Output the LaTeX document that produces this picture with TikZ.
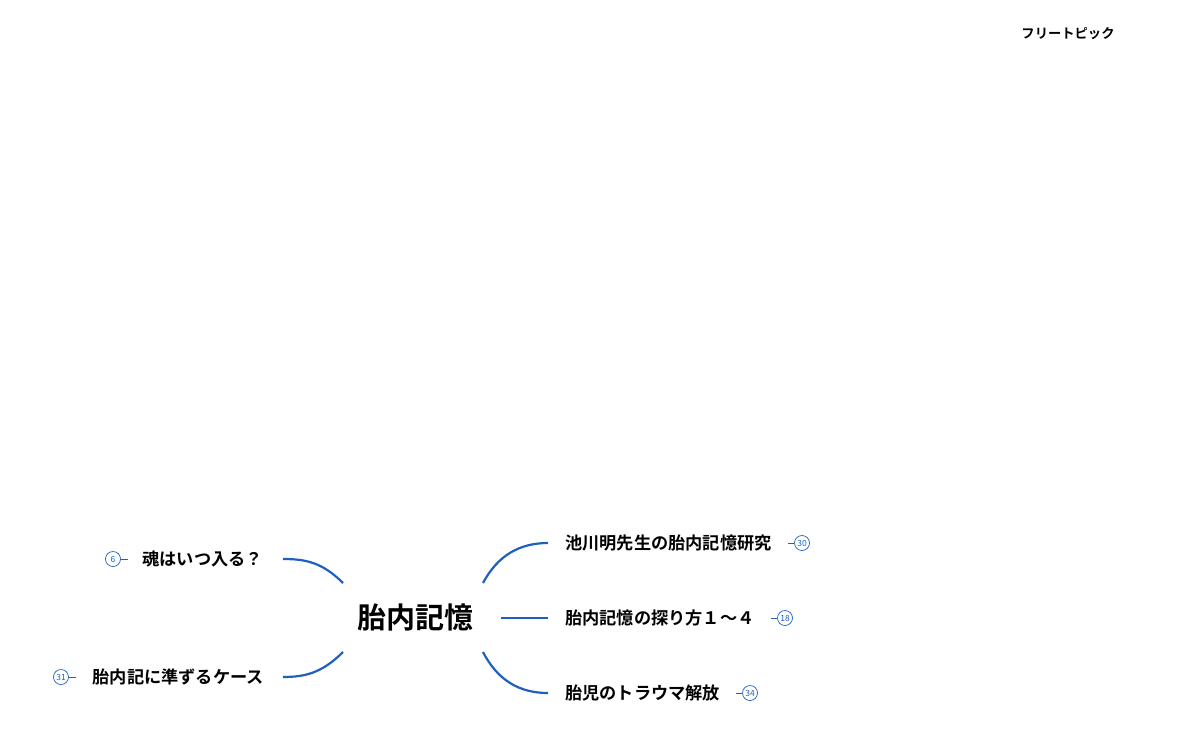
\documentclass[tikz,border=0pt]{standalone}
\usepackage{fontspec}
\setmainfont{Noto Sans CJK JP}[BoldFont=* Bold]
\definecolor{br}{HTML}{1F5FBF}
\tikzset{
 lbl/.style={inner sep=0pt,font=\bfseries\fontsize{17.2}{19}\selectfont},
 badge/.style={circle,draw=br,line width=0.7pt,minimum size=15pt,inner sep=0pt,text=br,font=\fontsize{8.5}{9}\selectfont},
 branch/.style={draw=br,line width=2.2pt},
 stub/.style={draw=br,line width=1pt}
}
\begin{document}
\begin{tikzpicture}[x=1pt,y=-1pt]
\useasboundingbox (0,0) rectangle (1181,731);
\node[inner sep=0pt,font=\bfseries\fontsize{13.3}{14}\selectfont] (ft) at (1068,34) {フリートピック};
\node[inner sep=2pt,font=\bfseries\fontsize{29}{30}\selectfont] (c) at (415,617) {胎内記憶};
% left
\node[lbl,anchor=east] (l1) at (263,559) {魂はいつ入る？};
\node[lbl,anchor=east] (l2) at (264,677) {胎内記に準ずるケース};
\node[badge] (b6) at (113,559) {6};
\node[badge] (b31) at (61,677) {31};
\coordinate (l1e) at (283,559);
\coordinate (l2e) at (283,677);
\coordinate (cul) at (343,583);
\coordinate (cll) at (343,652);
\draw[branch] (cul) .. controls (322,562) and (305,559) .. (l1e);
\draw[branch] (cll) .. controls (322,673) and (305,677) .. (l2e);
\draw[stub] (b6.east) -- ++(7,0);
\draw[stub] (b31.east) -- ++(7,0);
% right
\node[lbl,anchor=west] (r1) at (565,543) {池川明先生の胎内記憶研究};
\node[lbl,anchor=west] (r2) at (565,618) {胎内記憶の探り方１～４};
\node[lbl,anchor=west] (r3) at (565,693) {胎児のトラウマ解放};
\node[badge] (b30) at (802,543) {30};
\node[badge] (b18) at (785,618) {18};
\node[badge] (b34) at (750,693) {34};
\coordinate (r1e) at (548,543);
\coordinate (r2e) at (548,618);
\coordinate (r3e) at (548,693);
\coordinate (cur) at (483,583);
\coordinate (cmr) at (501,618);
\coordinate (clr) at (483,652);
\draw[branch] (cur) .. controls (498,555) and (520,543) .. (r1e);
\draw[branch] (cmr) -- (r2e);
\draw[branch] (clr) .. controls (498,681) and (520,693) .. (r3e);
\draw[stub] (b30.west) -- ++(-6,0);
\draw[stub] (b18.west) -- ++(-6,0);
\draw[stub] (b34.west) -- ++(-6,0);
\end{tikzpicture}
\end{document}
